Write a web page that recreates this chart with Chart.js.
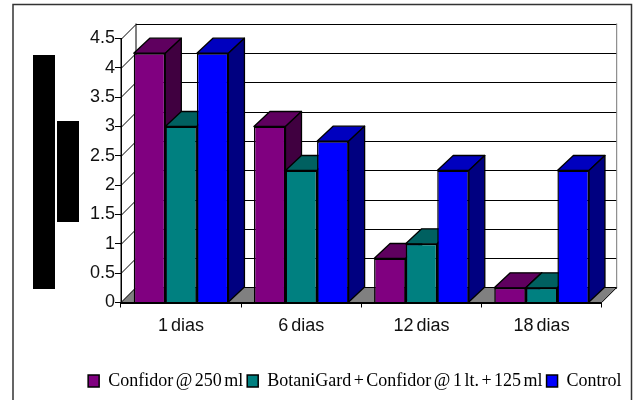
<!DOCTYPE html>
<html>
<head>
<meta charset="utf-8">
<style>
    html, body { margin: 0; padding: 0; background: #fff; overflow: hidden; }
    #wrap { position: relative; width: 636px; height: 400px; }
    canvas { position: absolute; left: 0; top: 0; }
    .tapado { position: absolute; background: #000; }
</style>
<script src="https://cdn.jsdelivr.net/npm/chart.js@4"></script>
</head>
<body>
<div id="wrap">
    <canvas id="grafico" width="636" height="400"></canvas>
    <div class="tapado" style="left:33px;top:55px;width:22px;height:234px"></div>
    <div class="tapado" style="left:57px;top:121px;width:22px;height:101px"></div>
</div>
<script>
const categorias = ['1 dias', '6 dias', '12 dias', '18 dias'];
const nombresSeries = ['Confidor @ 250 ml', 'BotaniGard + Confidor @ 1 lt. + 125 ml', 'Control'];
const confidor = [4.25, 3, 0.75, 0.25];
const botanigard = [3, 2.25, 1, 0.25];
const control = [4.25, 2.75, 2.25, 2.25];
const colores = ['#800080', '#008080', '#0000ff'];
const coloresTapa = ['#5f005f', '#006060', '#0000bf'];
const coloresLado = ['#400040', '#004040', '#000080'];

const fondoX = 15; // profundidad de la pared
const fondoY = 15;
const barraX = 16; // profundidad de las barras

const poligono = (ctx, puntos, relleno) => {
    ctx.fillStyle = relleno;
    ctx.beginPath();
    puntos.forEach(([x, y], i) => (i ? ctx.lineTo(x, y) : ctx.moveTo(x, y)));
    ctx.closePath();
    ctx.fill();
    ctx.stroke();
};

// Marco, paredes, piso, rejilla de fondo y barras con tapa y lado
const paredes = {
    id: 'paredes',
    beforeUpdate(chart) {
        chart.ctx.wordSpacing = '-2px';
    },
    afterLayout(chart) {
        // la leyenda va corrida a la derecha del centro
        chart.legend.left += 54;
        chart.legend.right += 54;
    },
    beforeDraw(chart) {
        const { ctx } = chart;
        ctx.wordSpacing = '-2px';
        ctx.save();
        ctx.strokeStyle = '#333';
        ctx.lineWidth = 1.5;
        ctx.strokeRect(13, 4.5, 618.5, 400);
        ctx.restore();
    },
    beforeDatasetsDraw(chart) {
        const { ctx, chartArea: a, scales: { y } } = chart;
        ctx.save();
        ctx.lineWidth = 1;
        ctx.strokeStyle = '#000';
        y.ticks.forEach(t => {
            const py = Math.round(y.getPixelForValue(t.value)) + 0.5;
            ctx.beginPath();
            ctx.moveTo(a.left, py);
            ctx.lineTo(a.left + fondoX, py - fondoY);
            ctx.lineTo(a.right + fondoX, py - fondoY);
            ctx.stroke();
        });
        ctx.beginPath();
        ctx.moveTo(a.left, a.top);
        ctx.lineTo(a.left, a.bottom);
        ctx.moveTo(a.left + fondoX, a.top - fondoY);
        ctx.lineTo(a.left + fondoX, a.bottom - fondoY);
        ctx.stroke();
        ctx.strokeStyle = '#777';
        ctx.beginPath();
        ctx.moveTo(a.right + fondoX, a.top - fondoY);
        ctx.lineTo(a.right + fondoX, a.bottom - fondoY);
        ctx.stroke();
        ctx.strokeStyle = '#000';
        poligono(ctx, [
            [a.left, a.bottom],
            [a.right, a.bottom],
            [a.right + fondoX, a.bottom - fondoY],
            [a.left + fondoX, a.bottom - fondoY]
        ], '#808080');

        // de izquierda a derecha, para que cada frente tape el lado de la barra anterior
        ctx.lineJoin = 'round';
        ctx.lineWidth = 1.3;
        chart.data.datasets.forEach((_, i) => {
            const meta = chart.getDatasetMeta(i);
            meta.data.forEach(barra => {
                const izq = barra.x - barra.width / 2;
                const der = barra.x + barra.width / 2;
                poligono(ctx, [
                    [izq, barra.y],
                    [izq + barraX, barra.y - fondoY],
                    [der + barraX, barra.y - fondoY],
                    [der, barra.y]
                ], coloresTapa[i]);
                poligono(ctx, [
                    [der, barra.y],
                    [der + barraX, barra.y - fondoY],
                    [der + barraX, barra.base - fondoY],
                    [der, barra.base]
                ], coloresLado[i]);
                barra.draw(ctx);
            });
        });
        ctx.restore();
        return false;
    }
};

new Chart(document.getElementById('grafico'), {
    type: 'bar',
    plugins: [paredes],
    data: {
        labels: categorias,
        datasets: [confidor, botanigard, control].map((valores, i) => ({
            label: nombresSeries[i],
            data: valores,
            backgroundColor: colores[i],
            borderColor: '#000',
            borderWidth: 1.5,
            barPercentage: 1,
            categoryPercentage: 0.788
        }))
    },
    options: {
        responsive: false,
        animation: false,
        layout: { padding: { top: 38.5, right: 34.3, left: 0, bottom: 0 } },
        scales: {
            x: {
                afterFit: s => { s.height = 65.5; },
                grid: { drawOnChartArea: false, color: '#000', tickLength: 5 },
                border: { color: '#000', width: 2 },
                ticks: { color: '#111', font: { family: 'Liberation Sans', size: 18 }, padding: 8, maxRotation: 0 }
            },
            y: {
                min: 0,
                max: 4.5,
                afterFit: s => { s.width = 121; },
                grid: { drawOnChartArea: false, color: '#000', tickLength: 6 },
                border: { color: '#000' },
                ticks: {
                    stepSize: 0.5,
                    color: '#111',
                    font: { family: 'Liberation Sans', size: 18 },
                    padding: 0,
                    callback: value => String(value)
                }
            }
        },
        plugins: {
            tooltip: { enabled: false },
            legend: {
                position: 'bottom',
                labels: {
                    boxWidth: 11,
                    boxHeight: 12,
                    padding: 4,
                    color: '#000',
                    font: { family: 'Liberation Serif', size: 18 }
                }
            }
        }
    }
});
</script>
</body>
</html>
